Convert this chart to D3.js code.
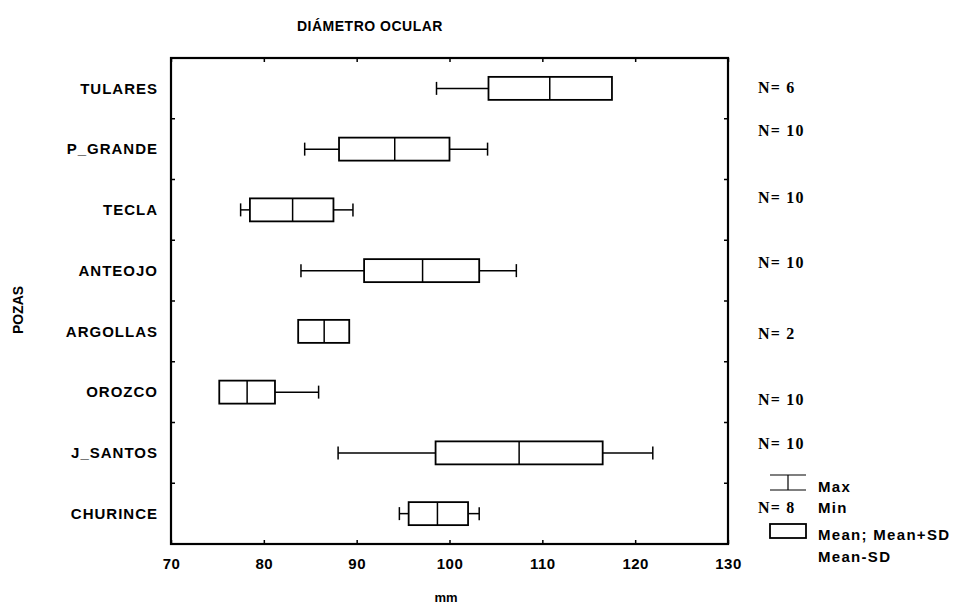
<!DOCTYPE html>
<html lang="es">
<head>
<meta charset="utf-8" />
<script src="https://cdn.jsdelivr.net/npm/d3@7"></script>
<style>
  body { margin: 0; background: #fff; }
  svg { font-family: "Liberation Sans", Arial, sans-serif; font-weight: bold; }
  .cat { font-size: 15px; letter-spacing: 1px; }
  .tick-lab { font-size: 15px; letter-spacing: 0.5px; }
  .nlab { font-family: "Liberation Serif", "Times New Roman", serif; font-size: 16px; font-weight: bold; letter-spacing: 1.2px; }
  .leg { font-size: 15px; letter-spacing: 1.3px; }
</style>
</head>
<body>
<svg id="chart" width="974" height="607"></svg>
<script>
// pozas, top to bottom
var pozas = ["TULARES", "P_GRANDE", "TECLA", "ANTEOJO", "ARGOLLAS", "OROZCO", "J_SANTOS", "CHURINCE"];
var minVal  = [98.6, 84.4, 77.5, 84.0, 83.7, 75.2, 88.0, 94.6];
var sdLow   = [104.2, 88.1, 78.5, 90.8, 83.7, 75.2, 98.5, 95.6];
var meanVal = [110.8, 94.1, 83.1, 97.1, 86.5, 78.2, 107.5, 98.7];
var sdHigh  = [117.5, 100.0, 87.5, 103.2, 89.2, 81.2, 116.5, 102.0];
var maxVal  = [117.5, 104.1, 89.6, 107.2, 89.2, 85.9, 121.9, 103.2];
var nCount  = [6, 10, 10, 10, 2, 10, 10, 8];
var xTicks  = [70, 80, 90, 100, 110, 120, 130];

// N labels are a bit off their rows in the original
var nShift = [-1, -19, -12, -8, 2, 7, -9, -6];

var svg = d3.select("#chart");
var plotLeft = 171, plotRight = 728, plotTop = 58, plotBottom = 544;

var x = d3.scaleLinear().domain([70, 130]).range([plotLeft, plotRight]);
var y = d3.scaleBand().domain(pozas).range([plotTop, plotBottom]);

var rows = pozas.map(function(p, i) {
  return { name: p, min: minVal[i], lo: sdLow[i], mean: meanVal[i], hi: sdHigh[i], max: maxVal[i], n: nCount[i], shift: nShift[i] };
});

// title
svg.append("text").attr("x", 297).attr("y", 31).attr("font-size", 14)
    .attr("letter-spacing", 0.5).text("DIÁMETRO OCULAR");

// frame
svg.append("rect")
    .attr("x", plotLeft).attr("y", plotTop)
    .attr("width", plotRight - plotLeft).attr("height", plotBottom - plotTop)
    .attr("fill", "none").attr("stroke", "#000").attr("stroke-width", 2.2);

// bottom / top axis ticks
svg.append("g")
    .attr("transform", "translate(0," + plotBottom + ")")
    .call(d3.axisBottom(x).tickValues(xTicks).tickSize(-4).tickPadding(14))
    .call(function(g) {
      g.select(".domain").remove();
      g.selectAll("line").attr("stroke-width", 1.5);
      g.selectAll("text").attr("class", "tick-lab").attr("font-size", null).attr("font-family", null);
    });
svg.append("g")
    .attr("transform", "translate(0," + plotTop + ")")
    .call(d3.axisTop(x).tickValues(xTicks).tickSize(-4).tickFormat(""))
    .call(function(g) { g.select(".domain").remove(); g.selectAll("line").attr("stroke-width", 1.5); });

// left / right ticks between rows
var yBreaks = pozas.slice(1).map(function(p) { return y(p); });
svg.append("g").selectAll("line")
    .data(yBreaks).enter().append("line")
    .attr("x1", plotLeft).attr("x2", plotLeft + 4)
    .attr("y1", function(d) { return d; }).attr("y2", function(d) { return d; })
    .attr("stroke", "#000").attr("stroke-width", 1.5);
svg.append("g").selectAll("line")
    .data(yBreaks).enter().append("line")
    .attr("x1", plotRight).attr("x2", plotRight - 4)
    .attr("y1", function(d) { return d; }).attr("y2", function(d) { return d; })
    .attr("stroke", "#000").attr("stroke-width", 1.5);

// category labels
svg.append("g").selectAll("text")
    .data(rows).enter().append("text")
    .attr("class", "cat")
    .attr("x", 158)
    .attr("y", function(d) { return y(d.name) + y.bandwidth() / 2; })
    .attr("dy", "0.35em")
    .attr("text-anchor", "end")
    .text(function(d) { return d.name; });

// axis titles
svg.append("text").attr("x", 446).attr("y", 602).attr("text-anchor", "middle")
    .attr("font-size", 13).text("mm");
svg.append("text").attr("transform", "translate(23,310) rotate(-90)")
    .attr("text-anchor", "middle").attr("font-size", 14).text("POZAS");

// boxes
var boxH = 23, capH = 13;
var cell = svg.append("g").selectAll("g")
    .data(rows).enter().append("g")
    .attr("transform", function(d) { return "translate(0," + (y(d.name) + y.bandwidth() / 2) + ")"; });

cell.filter(function(d) { return d.lo - d.min > 0.3; }).append("line")
    .attr("x1", function(d) { return x(d.min); }).attr("x2", function(d) { return x(d.lo); })
    .attr("stroke", "#000").attr("stroke-width", 1.5);
cell.filter(function(d) { return d.lo - d.min > 0.3; }).append("line")
    .attr("x1", function(d) { return x(d.min); }).attr("x2", function(d) { return x(d.min); })
    .attr("y1", -capH / 2).attr("y2", capH / 2)
    .attr("stroke", "#000").attr("stroke-width", 1.5);
cell.filter(function(d) { return d.max - d.hi > 0.3; }).append("line")
    .attr("x1", function(d) { return x(d.hi); }).attr("x2", function(d) { return x(d.max); })
    .attr("stroke", "#000").attr("stroke-width", 1.5);
cell.filter(function(d) { return d.max - d.hi > 0.3; }).append("line")
    .attr("x1", function(d) { return x(d.max); }).attr("x2", function(d) { return x(d.max); })
    .attr("y1", -capH / 2).attr("y2", capH / 2)
    .attr("stroke", "#000").attr("stroke-width", 1.5);

cell.append("rect")
    .attr("x", function(d) { return x(d.lo); })
    .attr("y", -boxH / 2)
    .attr("width", function(d) { return x(d.hi) - x(d.lo); })
    .attr("height", boxH)
    .attr("fill", "#fff").attr("stroke", "#000").attr("stroke-width", 1.8);
cell.append("line")
    .attr("x1", function(d) { return x(d.mean); }).attr("x2", function(d) { return x(d.mean); })
    .attr("y1", -boxH / 2).attr("y2", boxH / 2)
    .attr("stroke", "#000").attr("stroke-width", 1.5);

// N labels
svg.append("g").selectAll("text")
    .data(rows).enter().append("text")
    .attr("class", "nlab")
    .attr("x", 758)
    .attr("y", function(d) { return y(d.name) + y.bandwidth() / 2 + d.shift; })
    .attr("dy", "0.35em")
    .text(function(d) { return "N= " + d.n; });

// legend
var lg = svg.append("g");
lg.append("line").attr("x1", 770).attr("x2", 806).attr("y1", 475).attr("y2", 475).attr("stroke", "#000").attr("stroke-width", 1.2);
lg.append("line").attr("x1", 770).attr("x2", 806).attr("y1", 490).attr("y2", 490).attr("stroke", "#000").attr("stroke-width", 1.2);
lg.append("line").attr("x1", 788).attr("x2", 788).attr("y1", 475).attr("y2", 490).attr("stroke", "#000").attr("stroke-width", 1.2);
lg.append("rect").attr("x", 770).attr("y", 524).attr("width", 36).attr("height", 14)
    .attr("fill", "#fff").attr("stroke", "#000").attr("stroke-width", 1.8);
lg.append("text").attr("class", "leg").attr("x", 818).attr("y", 492).text("Max");
lg.append("text").attr("class", "leg").attr("x", 818).attr("y", 513).text("Min");
lg.append("text").attr("class", "leg").attr("x", 818).attr("y", 540).text("Mean; Mean+SD");
lg.append("text").attr("class", "leg").attr("x", 818).attr("y", 562).text("Mean-SD");
</script>
</body>
</html>
